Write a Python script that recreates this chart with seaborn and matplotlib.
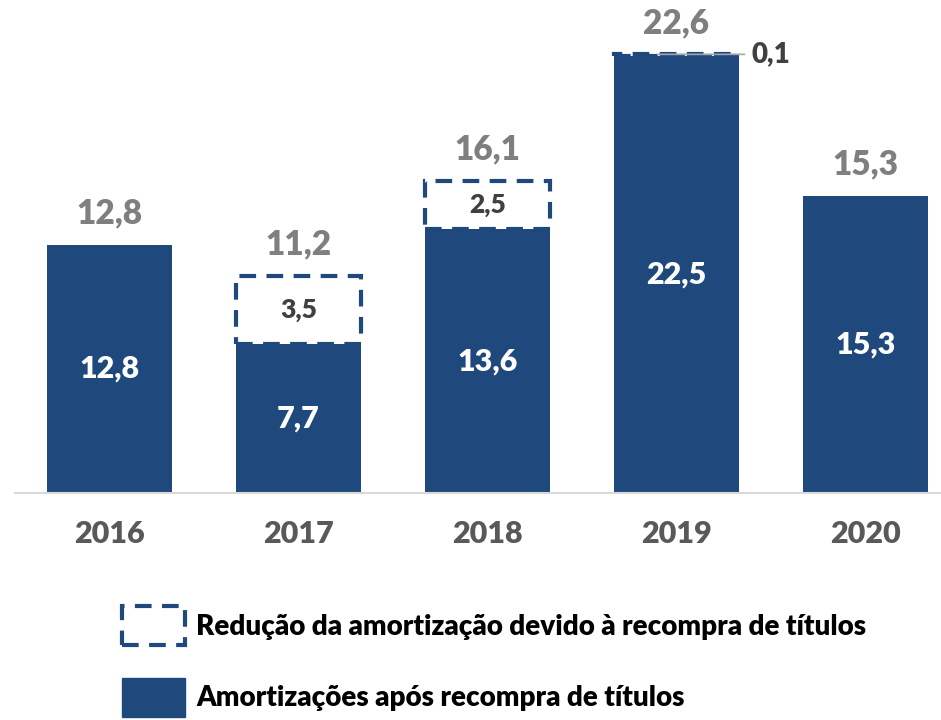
import pandas as pd
import matplotlib.pyplot as plt
import seaborn as sns
from matplotlib.patches import Patch

# Data (R$ bilhões)
anos = ['2016', '2017', '2018', '2019', '2020']
amortizacao = [12.8, 7.7, 13.6, 22.5, 15.3]
reducao = [0.0, 3.5, 2.5, 0.1, 0.0]
total = [12.8, 11.2, 16.1, 22.6, 15.3]

azul = '#1f497d'
cinza = '#7f7f7f'

sns.set_style('white')
plt.rcParams['font.family'] = ['Lato', 'DejaVu Sans']
plt.rcParams['font.weight'] = 'bold'


def fmt(v):
    return f'{v:.1f}'.replace('.', ',')


df = pd.DataFrame({'ano': anos, 'amort': amortizacao, 'red': reducao, 'total': total})
df_red = df[df['red'] > 0]

fig = plt.figure(figsize=(9.41, 7.2), dpi=100)
ax = fig.add_axes([15 / 941, 0.315, 926 / 941, 0.685])

# Amortizations after buyback
sns.barplot(x='ano', y='amort', data=df, order=anos, color=azul, saturation=1,
            width=0.66, ax=ax, linewidth=0)

# Reduction due to buyback (dashed box stacked on top)
sns.barplot(x='ano', y='red', data=df_red, order=anos, color=azul, saturation=1,
            width=0.66, ax=ax, fill=False, bottom=df_red['amort'].values,
            linewidth=3, linestyle=(0, (4, 2.5)))

ax.set_xlim(-0.5, 4.4)
ax.set_ylim(0, 25.4)

# Labels inside the base bars
ax.bar_label(ax.containers[0], labels=[fmt(v) for v in amortizacao], label_type='center',
             color='white', fontsize=22, fontweight='heavy')

# Labels inside the dashed boxes (skip the tiny 2019 one)
red_labels = [fmt(v) if v >= 1 else '' for v in df_red['red']]
ax.bar_label(ax.containers[1], labels=red_labels, label_type='center',
             color='#404040', fontsize=19, fontweight='heavy')

# Totals above bars
for i, v in enumerate(total):
    ax.annotate(fmt(v), xy=(i, v), xytext=(0, 11), textcoords='offset points',
                ha='center', va='bottom', color=cinza, fontsize=24, fontweight='heavy')

# 0,1 label for 2019 with leader line
i19 = anos.index('2019')
ax.annotate(fmt(reducao[i19]), xy=(i19 - 0.1, total[i19]), xytext=(68, 0),
            textcoords='offset points', ha='left', va='center', color='#404040',
            fontsize=20, fontweight='heavy',
            arrowprops=dict(arrowstyle='-', color='#a6a6a6', lw=1.2,
                            shrinkA=3, shrinkB=0))

ax.set_xlabel('')
ax.set_ylabel('')
ax.set_yticks([])
ax.tick_params(axis='x', length=0, pad=19, labelsize=22, labelcolor='#595959')
for lbl in ax.get_xticklabels():
    lbl.set_fontweight('heavy')
for s in ['top', 'left', 'right']:
    ax.spines[s].set_visible(False)
ax.spines['bottom'].set_color('#d9d9d9')
ax.spines['bottom'].set_linewidth(1.5)

# Legend
handles = [
    Patch(facecolor='white', edgecolor=azul, linewidth=3, linestyle=(0, (4, 2.5)),
          label='Redução da amortização devido à recompra de títulos'),
    Patch(facecolor=azul, edgecolor=azul, label='Amortizações após recompra de títulos'),
]
fig.legend(handles=handles, loc='upper left', bbox_to_anchor=(122 / 941, 1 - 606 / 720),
           frameon=False, borderpad=0, borderaxespad=0, handlelength=2.27,
           handleheight=1.81, handletextpad=0.4, labelspacing=1.16,
           labelcolor='black', prop={'size': 20, 'weight': 'heavy'})

fig.savefig('out.png', dpi=100)
